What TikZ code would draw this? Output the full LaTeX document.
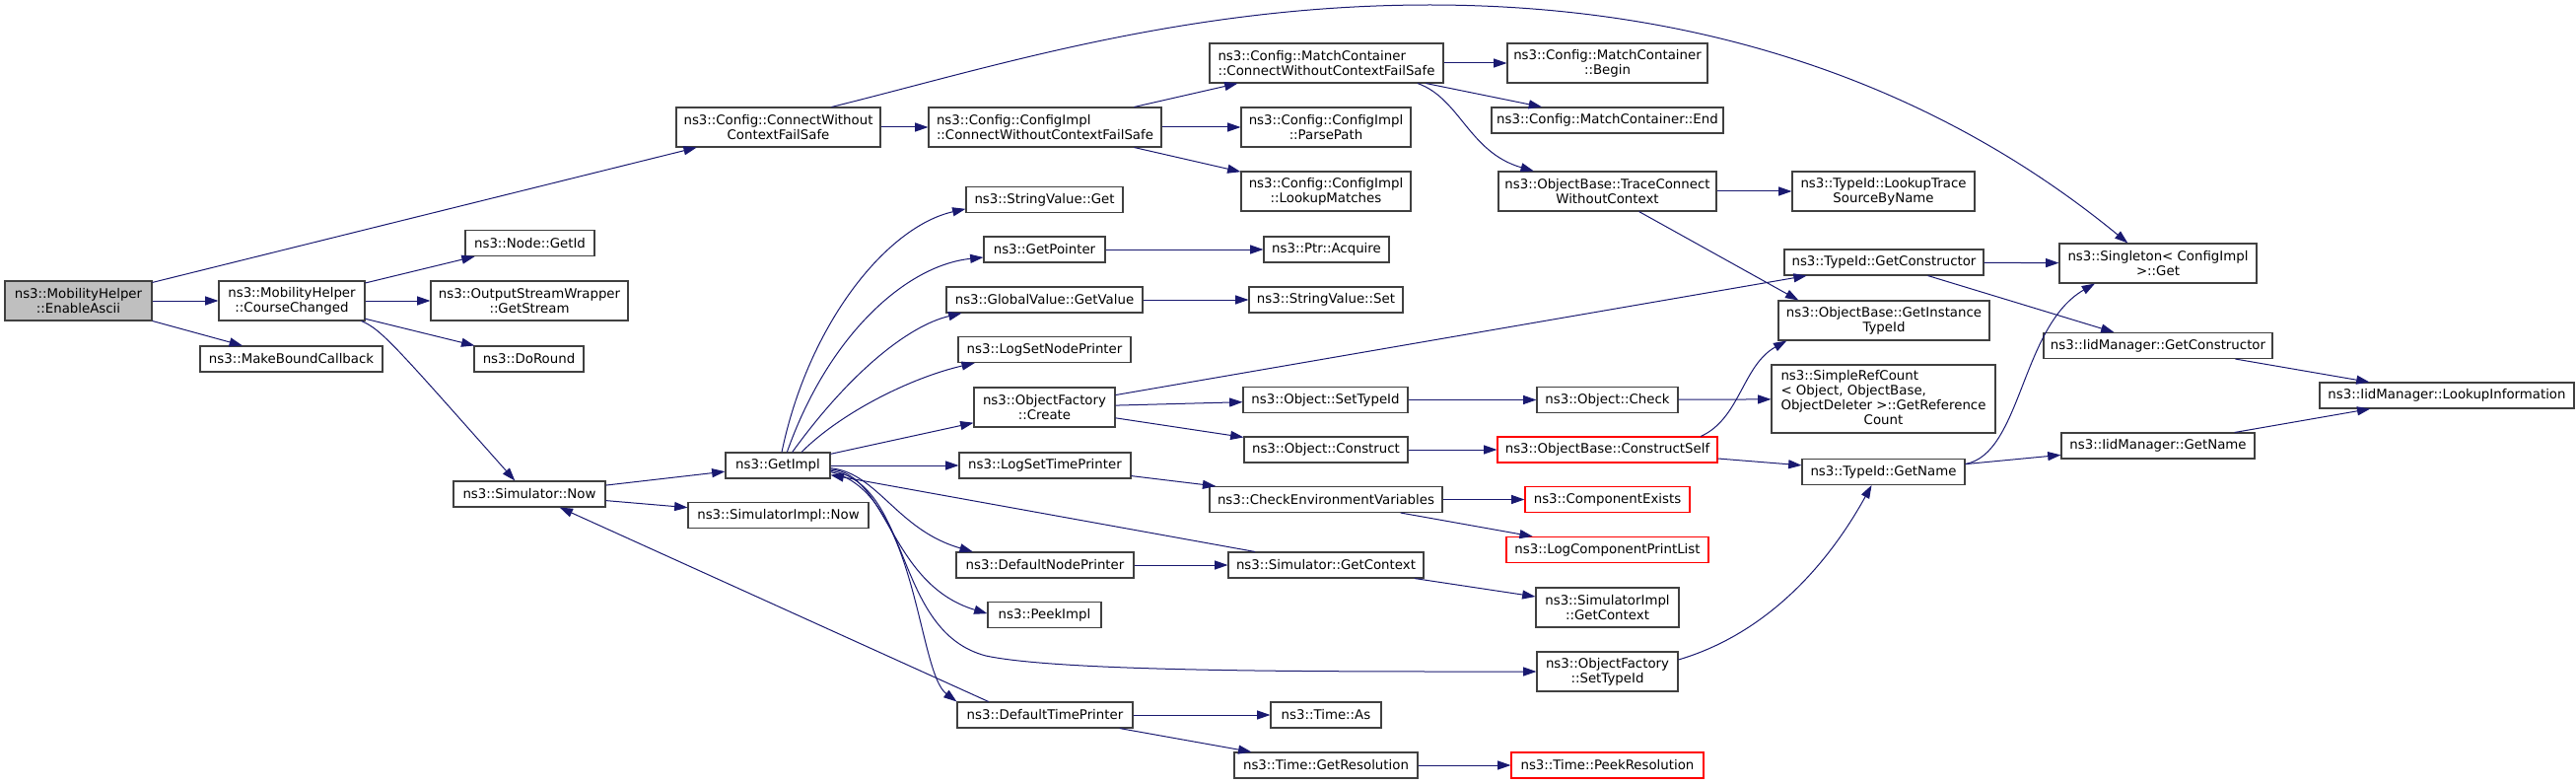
\documentclass[tikz,border=0pt]{standalone}
\usepackage{fontspec}
\setmainfont{DejaVu Sans}
\usetikzlibrary{arrows.meta}
\definecolor{edgeblue}{RGB}{25,25,112}
\definecolor{rootgray}{RGB}{191,191,191}
\begin{document}
\begin{tikzpicture}[
            x=0.75pt, y=-0.75pt,
            fn/.style={draw=black!75, line width=0.8pt, fill=white, inner sep=0pt, align=center,
                font=\fontsize{10}{11.25}\selectfont, minimum height=19.5pt},
            two/.style={minimum height=30pt},
            wd/.style={minimum width=#1*0.75pt},
            root/.style={fn, fill=rootgray},
            cut/.style={fn, draw=red},
            call/.style={draw=edgeblue, line width=0.75pt, -{Triangle[length=10pt,width=6.75pt]}}
        ]
        \useasboundingbox (0,0) rectangle (2613,795);
        \node[root, two, wd=149] (ea) at (79.5,305) {ns3::MobilityHelper\\::EnableAscii};
        \node[fn, two, wd=148] (cc) at (296,305) {ns3::MobilityHelper\\::CourseChanged};
        \node[fn, wd=185] (mbc) at (295.5,364) {ns3::MakeBoundCallback};
        \node[fn, wd=131] (gid) at (537.5,246.5) {ns3::Node::GetId};
        \node[fn, two, wd=200] (gs) at (537,305) {ns3::OutputStreamWrapper\\::GetStream};
        \node[fn, wd=111] (dr) at (536.5,364) {ns3::DoRound};
        \node[fn, wd=154] (sn) at (537,501) {ns3::Simulator::Now};
        \node[fn, two, wd=207] (cwc) at (789.5,129) {ns3::Config::ConnectWithout\\ContextFailSafe};
        \node[fn, wd=106] (gi) at (789,472) {ns3::GetImpl};
        \node[fn, wd=183] (sin) at (789.5,522.5) {ns3::SimulatorImpl::Now};
        \node[fn, two, wd=236, align=left] (ci) at (1060,129) {ns3::Config::ConfigImpl\\::ConnectWithoutContextFailSafe};
        \node[fn, wd=159] (svg) at (1059.5,202.5) {ns3::StringValue::Get};
        \node[fn, wd=123] (gp) at (1059.5,253) {ns3::GetPointer};
        \node[fn, wd=199] (gv) at (1059.5,304) {ns3::GlobalValue::GetValue};
        \node[fn, wd=175] (lnp) at (1059.5,354.5) {ns3::LogSetNodePrinter};
        \node[fn, two, wd=143] (ofc) at (1059.5,413) {ns3::ObjectFactory\\::Create};
        \node[fn, wd=174] (ltp) at (1060,472) {ns3::LogSetTimePrinter};
        \node[fn, wd=180] (dnp) at (1060,573) {ns3::DefaultNodePrinter};
        \node[fn, wd=115] (pi) at (1059.5,623.5) {ns3::PeekImpl};
        \node[fn, wd=178] (dtp) at (1060,725) {ns3::DefaultTimePrinter};
        \node[fn, two, wd=237, align=left] (mcc) at (1345.5,64) {ns3::Config::MatchContainer\\::ConnectWithoutContextFailSafe};
        \node[fn, two, wd=172] (pp) at (1345,129) {ns3::Config::ConfigImpl\\::ParsePath};
        \node[fn, two, wd=172] (lm) at (1345,194) {ns3::Config::ConfigImpl\\::LookupMatches};
        \node[fn, wd=127] (pa) at (1345.5,253) {ns3::Ptr::Acquire};
        \node[fn, wd=156] (svs) at (1345,304) {ns3::StringValue::Set};
        \node[fn, wd=167] (ost) at (1344.5,405.5) {ns3::Object::SetTypeId};
        \node[fn, wd=166] (oco) at (1345,456) {ns3::Object::Construct};
        \node[fn, wd=236] (cev) at (1345,506.5) {ns3::CheckEnvironmentVariables};
        \node[fn, wd=198] (sgc) at (1345,573) {ns3::Simulator::GetContext};
        \node[fn, wd=112] (ta) at (1345,725) {ns3::Time::As};
        \node[fn, wd=186] (tgr) at (1345,776) {ns3::Time::GetResolution};
        \node[fn, two, wd=203] (mcb) at (1630.5,64) {ns3::Config::MatchContainer\\::Begin};
        \node[fn, wd=235] (mce) at (1630.5,122) {ns3::Config::MatchContainer::End};
        \node[fn, two, wd=221] (tcw) at (1630.5,194) {ns3::ObjectBase::TraceConnect\\WithoutContext};
        \node[fn, wd=143] (och) at (1630.5,405.5) {ns3::Object::Check};
        \node[cut, wd=223] (ocs) at (1630.5,456) {ns3::ObjectBase::ConstructSelf};
        \node[cut, wd=167] (cex) at (1630.5,506.5) {ns3::ComponentExists};
        \node[cut, wd=205] (lcp) at (1630.5,557.5) {ns3::LogComponentPrintList};
        \node[fn, two, wd=145] (sigc) at (1630.5,616) {ns3::SimulatorImpl\\::GetContext};
        \node[fn, two, wd=143] (ofs) at (1630.5,681) {ns3::ObjectFactory\\::SetTypeId};
        \node[cut, wd=195] (tpr) at (1630.5,776) {ns3::Time::PeekResolution};
        \node[fn, two, wd=185] (tls) at (1910.5,194) {ns3::TypeId::LookupTrace\\SourceByName};
        \node[fn, wd=202] (tgc) at (1911,266) {ns3::TypeId::GetConstructor};
        \node[fn, two, wd=214] (git) at (1911,325) {ns3::ObjectBase::GetInstance\\TypeId};
        \node[fn, wd=227, minimum height=51.75pt] (src) at (1910.5,404.5) {\begin{tabular}{@{}l@{}}ns3::SimpleRefCount\\< Object, ObjectBase,\\\multicolumn{1}{@{}c@{}}{ObjectDeleter >::GetReference}\\\multicolumn{1}{@{}c@{}}{Count}\end{tabular}};
        \node[fn, wd=165] (tgn) at (1910.5,478.5) {ns3::TypeId::GetName};
        \node[fn, two, wd=200] (sg) at (2189,267) {ns3::Singleton< ConfigImpl\\>::Get};
        \node[fn, wd=232] (igc) at (2189,350.5) {ns3::IidManager::GetConstructor};
        \node[fn, wd=196] (ign) at (2189,452) {ns3::IidManager::GetName};
        \node[fn, wd=258] (ili) at (2482,401) {ns3::IidManager::LookupInformation};
        \draw[call] (ea) -- (cwc);
        \draw[call] (ea) -- (cc);
        \draw[call] (ea) -- (mbc);
        \draw[call] (cc) -- (gid);
        \draw[call] (cc) -- (gs);
        \draw[call] (cc) -- (dr);
        \draw[call] ([xshift=-3pt]cc.south east) .. controls +(20,8) and +(-120,-135) .. ([xshift=-11pt]sn.north);
        \draw[call] (cwc) -- (ci);
        \draw[call] ([xshift=40.5pt]cwc.north) .. controls (1000,70) and (1200,5) .. (1450,5) .. controls (1750,5) and (1980,100) .. ([xshift=-23pt]sg.north);
        \draw[call] ([xshift=-21pt]ci.north east) -- (mcc);
        \draw[call] (ci) -- (pp);
        \draw[call] ([xshift=-21pt]ci.south east) -- (lm);
        \draw[call] (mcc) -- (mcb);
        \draw[call] (mcc) -- (mce);
        \draw[call] ([xshift=-20pt]mcc.south east) .. controls +(43,15) and +(-66,-19) .. ([xshift=-56pt]tcw.north);
        \draw[call] (tcw) -- (tls);
        \draw[call] ([xshift=24pt]tcw.south) -- ([xshift=-65pt]git.north);
        \draw[call] (tgc) -- (sg);
        \draw[call] (tgc) -- (igc);
        \draw[call] (igc) -- (ili);
        \draw[call] (ign) -- (ili);
        \draw[call] (tgn) -- (ign);
        \draw[call] ([yshift=6pt]tgn.east) .. controls +(57,-10) and +(-75,43) .. ([xshift=-48pt]sg.south);
        \draw[call] (sn) -- (gi);
        \draw[call] (sn) -- (sin);
        \draw[call] ([xshift=3pt]gi.north) .. controls +(27,-130) and +(-80,18) .. ([yshift=-7pt]svg.west);
        \draw[call] ([xshift=7pt]gi.north) .. controls +(42,-119) and +(-78,8) .. ([yshift=-6pt]gp.west);
        \draw[call] ([xshift=11pt]gi.north) .. controls +(57,-79) and +(-55,13) .. ([xshift=12pt]gv.south west);
        \draw[call] ([xshift=18pt]gi.north) .. controls +(40,-40) and +(-65,15) .. ([xshift=13pt]lnp.south west);
        \draw[call] (gi) -- (ofc);
        \draw[call] (gi) -- (ltp);
        \draw[call] ([yshift=-2pt]gi.east) .. controls +(48,5) and +(-77,-22) .. ([xshift=13pt]dnp.north west);
        \draw[call] ([yshift=-3pt]gi.east) .. controls +(58,4) and +(-100,-30) .. ([yshift=1pt]pi.west);
        \draw[call] ([yshift=-4pt]gi.east) .. controls +(83,13) and +(-95,-25) .. (1000,665) .. controls +(80,17) and +(-200,0) .. (ofs.west);
        \draw[call] ([yshift=-5pt]gi.east) .. controls +(88,20) and +(-40,-30) .. (dtp.north west);
        \draw[call] (gp) -- (pa);
        \draw[call] (gv) -- (svs);
        \draw[call] (ofc) -- (tgc);
        \draw[call] (ofc) -- (ost);
        \draw[call] (ofc) -- (oco);
        \draw[call] (ost) -- (och);
        \draw[call] (och) -- (src);
        \draw[call] (oco) -- (ocs);
        \draw[call] ([xshift=-13pt]ocs.north east) .. controls +(40,-18) and +(-45,25) .. ([xshift=-74pt]git.south);
        \draw[call] (ocs) -- (tgn);
        \draw[call] (ltp) -- (cev);
        \draw[call] (cev) -- (cex);
        \draw[call] (cev) -- (lcp);
        \draw[call] (dnp) -- (sgc);
        \draw[call] ([xshift=-54pt]sgc.north) -- (gi);
        \draw[call] (sgc) -- (sigc);
        \draw[call] ([yshift=9pt]ofs.east) .. controls +(98,-29) and +(-38,69) .. ([xshift=-9pt]tgn.south);
        \draw[call] (dtp) -- (ta);
        \draw[call] (dtp) -- (tgr);
        \draw[call] ([xshift=-43pt]dtp.north) -- ([xshift=23pt]sn.south);
        \draw[call] (tgr) -- (tpr);
    \end{tikzpicture}
\end{document}
